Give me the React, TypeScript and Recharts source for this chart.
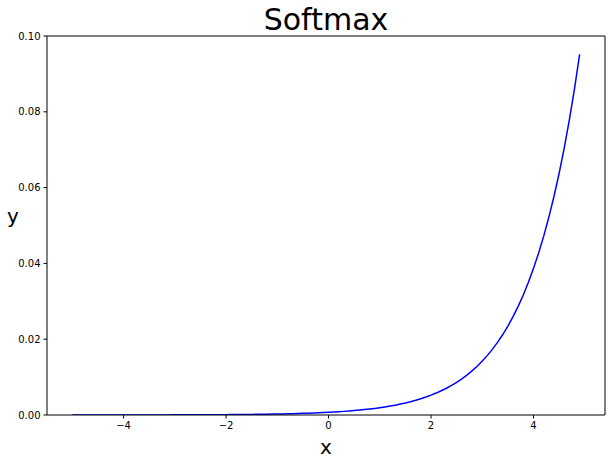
import React from 'react';
import { LineChart, Line, XAxis, YAxis, Label, ReferenceLine } from 'recharts';

// x from -5.0 to 4.9 in steps of 0.1
const xValues = [
  -5.0, -4.9, -4.8, -4.7, -4.6, -4.5, -4.4, -4.3, -4.2, -4.1,
  -4.0, -3.9, -3.8, -3.7, -3.6, -3.5, -3.4, -3.3, -3.2, -3.1,
  -3.0, -2.9, -2.8, -2.7, -2.6, -2.5, -2.4, -2.3, -2.2, -2.1,
  -2.0, -1.9, -1.8, -1.7, -1.6, -1.5, -1.4, -1.3, -1.2, -1.1,
  -1.0, -0.9, -0.8, -0.7, -0.6, -0.5, -0.4, -0.3, -0.2, -0.1,
  0.0, 0.1, 0.2, 0.3, 0.4, 0.5, 0.6, 0.7, 0.8, 0.9,
  1.0, 1.1, 1.2, 1.3, 1.4, 1.5, 1.6, 1.7, 1.8, 1.9,
  2.0, 2.1, 2.2, 2.3, 2.4, 2.5, 2.6, 2.7, 2.8, 2.9,
  3.0, 3.1, 3.2, 3.3, 3.4, 3.5, 3.6, 3.7, 3.8, 3.9,
  4.0, 4.1, 4.2, 4.3, 4.4, 4.5, 4.6, 4.7, 4.8, 4.9,
];

const softmaxValues = [
  4.7747e-6, 5.2768e-6, 5.8318e-6, 6.4452e-6, 7.123e-6, 7.8722e-6, 8.7001e-6, 9.6151e-6, 1.0626e-5, 1.1744e-5,
  1.2979e-5, 1.4344e-5, 1.5853e-5, 1.752e-5, 1.9363e-5, 2.1399e-5, 2.365e-5, 2.6137e-5, 2.8886e-5, 3.1924e-5,
  3.5282e-5, 3.8992e-5, 4.3093e-5, 4.7625e-5, 5.2634e-5, 5.8169e-5, 6.4287e-5, 7.1048e-5, 7.8521e-5, 8.6779e-5,
  9.5906e-5, 1.0599e-4, 1.1714e-4, 1.2946e-4, 1.4307e-4, 1.5812e-4, 1.7475e-4, 1.9313e-4, 2.1344e-4, 2.3589e-4,
  2.607e-4, 2.8812e-4, 3.1842e-4, 3.5191e-4, 3.8892e-4, 4.2982e-4, 4.7503e-4, 5.2499e-4, 5.802e-4, 6.4122e-4,
  7.0865e-4, 7.8318e-4, 8.6555e-4, 9.5658e-4, 1.0572e-3, 1.1684e-3, 1.2913e-3, 1.427e-3, 1.5771e-3, 1.743e-3,
  1.9263e-3, 2.1289e-3, 2.3529e-3, 2.6003e-3, 2.8737e-3, 3.176e-3, 3.51e-3, 3.8792e-3, 4.2871e-3, 4.738e-3,
  5.2362e-3, 5.7869e-3, 6.3955e-3, 7.0682e-3, 7.8115e-3, 8.633e-3, 9.541e-3, 1.0544e-2, 1.1653e-2, 1.2879e-2,
  1.4234e-2, 1.5731e-2, 1.7385e-2, 1.9213e-2, 2.1234e-2, 2.3467e-2, 2.5935e-2, 2.8663e-2, 3.1677e-2, 3.5009e-2,
  3.869e-2, 4.276e-2, 4.7257e-2, 5.2227e-2, 5.7719e-2, 6.379e-2, 7.0498e-2, 7.7913e-2, 8.6107e-2, 9.5163e-2,
];

const xTicks = [-4, -2, 0, 2, 4];
const yTicks = [0, 0.02, 0.04, 0.06, 0.08, 0.1];
const xDomain = [-5.495, 5.395];
const yDomain = [0, 0.1];

const data = xValues.map((x, i) => ({ x, y: softmaxValues[i] }));

const font = 'DejaVu Sans, sans-serif';
const tickStyle = { fontFamily: font, fontSize: 10, fill: '#000' };

export default function App() {
  return (
    <div style={{ position: 'absolute', left: 0, top: 0, background: '#fff' }}>
      <LineChart
        width={611}
        height={463}
        data={data}
        margin={{ top: 36, right: 6, bottom: 0, left: 0 }}
      >
        <XAxis
          dataKey="x"
          type="number"
          domain={xDomain}
          ticks={xTicks}
          allowDataOverflow
          tickFormatter={(v: number) => String(v).replace('-', '\u2212')}
          tick={tickStyle}
          tickSize={3.5}
          tickMargin={3}
          stroke="#000"
          height={48}
        >
          <Label
            content={() => (
              <g>
                <text x={326} y={454} textAnchor="middle" fontFamily={font} fontSize={20} fill="#000">
                  x
                </text>
                <text x={326} y={30} textAnchor="middle" fontFamily={font} fontSize={30} fill="#000">
                  Softmax
                </text>
              </g>
            )}
          />
        </XAxis>
        <YAxis
          type="number"
          domain={yDomain}
          ticks={yTicks}
          allowDataOverflow
          tickFormatter={(v: number) => v.toFixed(2)}
          tick={tickStyle}
          tickSize={3.5}
          tickMargin={3}
          stroke="#000"
          width={47}
        >
          <Label
            content={() => (
              <text x={13} y={223} textAnchor="middle" fontFamily={font} fontSize={20} fill="#000">
                y
              </text>
            )}
          />
        </YAxis>
        <ReferenceLine y={0.1} stroke="#000" strokeWidth={1} />
        <ReferenceLine x={5.395} stroke="#000" strokeWidth={1} />
        <Line
          dataKey="y"
          type="linear"
          stroke="#0000ff"
          strokeWidth={1.5}
          dot={false}
          isAnimationActive={false}
        />
      </LineChart>
    </div>
  );
}
